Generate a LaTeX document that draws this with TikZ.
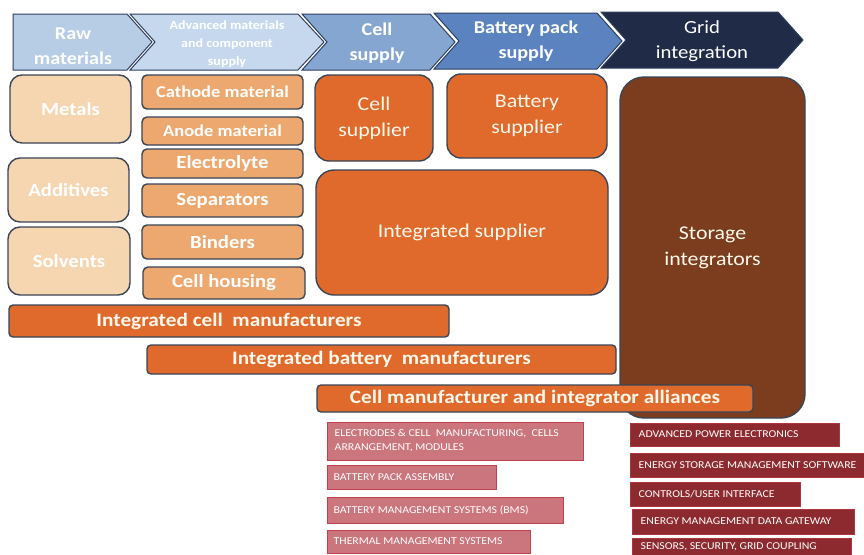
\documentclass[tikz,border=0pt]{standalone}
\usepackage{fontspec}
\setmainfont{Carlito}[FakeStretch=1.12]
\definecolor{rawc}{HTML}{B7CDE5}
\definecolor{advc}{HTML}{C6D8EE}
\definecolor{cellc}{HTML}{86A6D2}
\definecolor{packc}{HTML}{5A83BF}
\definecolor{gridc}{HTML}{1F2B47}
\definecolor{chevline}{HTML}{2F3F5E}
\definecolor{peach}{HTML}{F6D5B1}
\definecolor{tanc}{HTML}{EDA86F}
\definecolor{orng}{HTML}{E06A2C}
\definecolor{brwn}{HTML}{7C3D1E}
\definecolor{bline}{HTML}{3A4556}
\definecolor{pinkc}{HTML}{CB757D}
\definecolor{pinkl}{HTML}{C2414F}
\definecolor{redc}{HTML}{8C2A2F}
\definecolor{redl}{HTML}{B0363D}
\definecolor{cream}{HTML}{FFF8EC}
\tikzset{
  chev/.style={draw=chevline, line width=1pt, line join=miter},
  chevtxt/.style={text=white, align=center, font=\bfseries\fontsize{18}{25}\selectfont},
  box/.style={draw=bline, line width=1.4pt, inner sep=0pt, text=white, align=center},
  peachbox/.style={box, fill=peach, rounded corners=12pt, font=\bfseries\fontsize{18.5}{22}\selectfont},
  tanbox/.style={box, fill=tanc, rounded corners=5pt, font=\bfseries\fontsize{18.5}{22}\selectfont},
  orbox/.style={box, fill=orng, text=cream, rounded corners=14pt, font=\fontsize{19.5}{26}\selectfont},
  brbox/.style={box, fill=brwn, text=cream, rounded corners=24pt, font=\fontsize{19.5}{26}\selectfont},
  barbox/.style={box, fill=orng, text=cream, rounded corners=4pt, font=\bfseries\fontsize{19}{22}\selectfont},
  pbox/.style={draw=pinkl, line width=1pt, fill=pinkc, inner sep=0pt},
  rbox/.style={draw=redl, line width=1pt, fill=redc, inner sep=0pt},
  smalltxt/.style={text=white, align=left, inner sep=0pt, anchor=west, font=\fontsize{10.5}{14}\selectfont}
}
% #1 style, #2 x1, #3 y1, #4 x2, #5 y2, #6 name
\newcommand\putbox[6]{\node[#1, minimum width=#4pt-#2pt, minimum height=#5pt-#3pt] (#6) at ({(#2+#4)/2},{(#3+#5)/2})}
\begin{document}
\begin{tikzpicture}[x=1pt,y=-1pt]
\fill[white] (0,0) rectangle (864,554);
\useasboundingbox (0,0) rectangle (864,554);
% chevrons
\draw[chev, fill=rawc] (13,14) -- (127,14) -- (152,42) -- (127,70) -- (13,70) -- cycle;
\draw[chev, fill=advc] (130,14) -- (298,14) -- (324,42) -- (298,70) -- (130,70) -- (155,42) -- cycle;
\draw[chev, fill=cellc] (302,14) -- (430,14) -- (455,42) -- (430,70) -- (302,70) -- (327,42) -- cycle;
\draw[chev, fill=packc] (434,13) -- (597,13) -- (622,41) -- (597,69) -- (434,69) -- (459,41) -- cycle;
\draw[chev, fill=gridc] (601,12) -- (778,12) -- (803,40) -- (778,68) -- (601,68) -- (626,40) -- cycle;
\node[chevtxt] (raw) at (73,46) {Raw\\materials};
\node[chevtxt, font=\bfseries\fontsize{12.5}{18}\selectfont] (adv) at (227,44) {Advanced materials\\and component\\supply};
\node[chevtxt] (cell) at (377,43) {Cell\\supply};
\node[chevtxt] (pack) at (526,41) {Battery pack\\supply};
\node[chevtxt, font=\fontsize{18.5}{25}\selectfont] (grid) at (702,41) {Grid\\integration};
% raw materials boxes
\putbox{peachbox}{10}{75}{131}{143}{metals} {Metals};
\putbox{peachbox}{8}{158}{129}{222}{additives} {Additives};
\putbox{peachbox}{8}{227}{130}{295}{solvents} {Solvents};
% component boxes
\putbox{tanbox, font=\bfseries\fontsize{16.5}{20}\selectfont}{142}{75}{303}{109}{cathode} {Cathode\ material};
\putbox{tanbox, font=\bfseries\fontsize{16.5}{20}\selectfont}{142}{117}{303}{145}{anode} {Anode material};
\putbox{tanbox}{142}{149}{303}{178}{electrolyte} {Electrolyte};
\putbox{tanbox}{142}{184}{303}{217}{separators} {Separators};
\putbox{tanbox}{142}{225}{303}{259}{binders} {Binders};
\putbox{tanbox}{143}{267}{305}{299}{housing} {Cell housing};
% suppliers
\putbox{orbox}{315}{75}{433}{161}{cellsup} {Cell\\supplier};
\putbox{orbox}{447}{74}{607}{158}{battsup} {Battery\\supplier};
\putbox{orbox, rounded corners=18pt}{316}{170}{608}{295}{intsup} {Integrated supplier};
\putbox{brbox}{620}{77}{805}{418}{storage} {Storage\\integrators};
% bars
\putbox{barbox}{9}{305}{449}{337}{icm} {Integrated cell\ \ manufacturers};
\putbox{barbox}{147}{345}{616}{374}{ibm} {Integrated battery\ \ manufacturers};
\putbox{barbox}{317}{385}{753}{412}{cmia} {Cell manufacturer and integrator alliances};
% lower left list
\putbox{pbox}{327}{422}{583}{460}{p1} {};
\node[smalltxt] (p1t) at ([xshift=8pt]p1.west) {ELECTRODES \& CELL\ \ MANUFACTURING,\ \ CELLS\\ARRANGEMENT, MODULES};
\putbox{pbox}{327}{465}{496}{489}{p2} {};
\node[smalltxt] (p2t) at ([xshift=7pt]p2.west) {BATTERY PACK ASSEMBLY};
\putbox{pbox}{327}{497}{563}{523}{p3} {};
\node[smalltxt] (p3t) at ([xshift=7pt]p3.west) {BATTERY MANAGEMENT SYSTEMS (BMS)};
\putbox{pbox}{327}{530}{530}{553}{p4} {};
\node[smalltxt] (p4t) at ([xshift=7pt]p4.west) {THERMAL MANAGEMENT SYSTEMS};
% lower right list
\putbox{rbox}{630}{423}{839}{446}{r1} {};
\node[smalltxt] (r1t) at ([xshift=9pt]r1.west) {ADVANCED POWER ELECTRONICS};
\putbox{rbox}{630}{453}{872}{477}{r2} {};
\node[smalltxt] (r2t) at ([xshift=9pt]r2.west) {ENERGY STORAGE MANAGEMENT SOFTWARE};
\putbox{rbox}{630}{482}{800}{506}{r3} {};
\node[smalltxt] (r3t) at ([xshift=9pt]r3.west) {CONTROLS/USER INTERFACE};
\putbox{rbox}{632}{509}{854}{534}{r4} {};
\node[smalltxt] (r4t) at ([xshift=9pt]r4.west) {ENERGY MANAGEMENT DATA GATEWAY};
\putbox{rbox}{632}{538}{851}{568}{r5} {};
\node[smalltxt, anchor=north west] (r5t) at ([xshift=9pt,yshift=-5pt]r5.north west) {SENSORS, SECURITY, GRID COUPLING};
\end{tikzpicture}
\end{document}
